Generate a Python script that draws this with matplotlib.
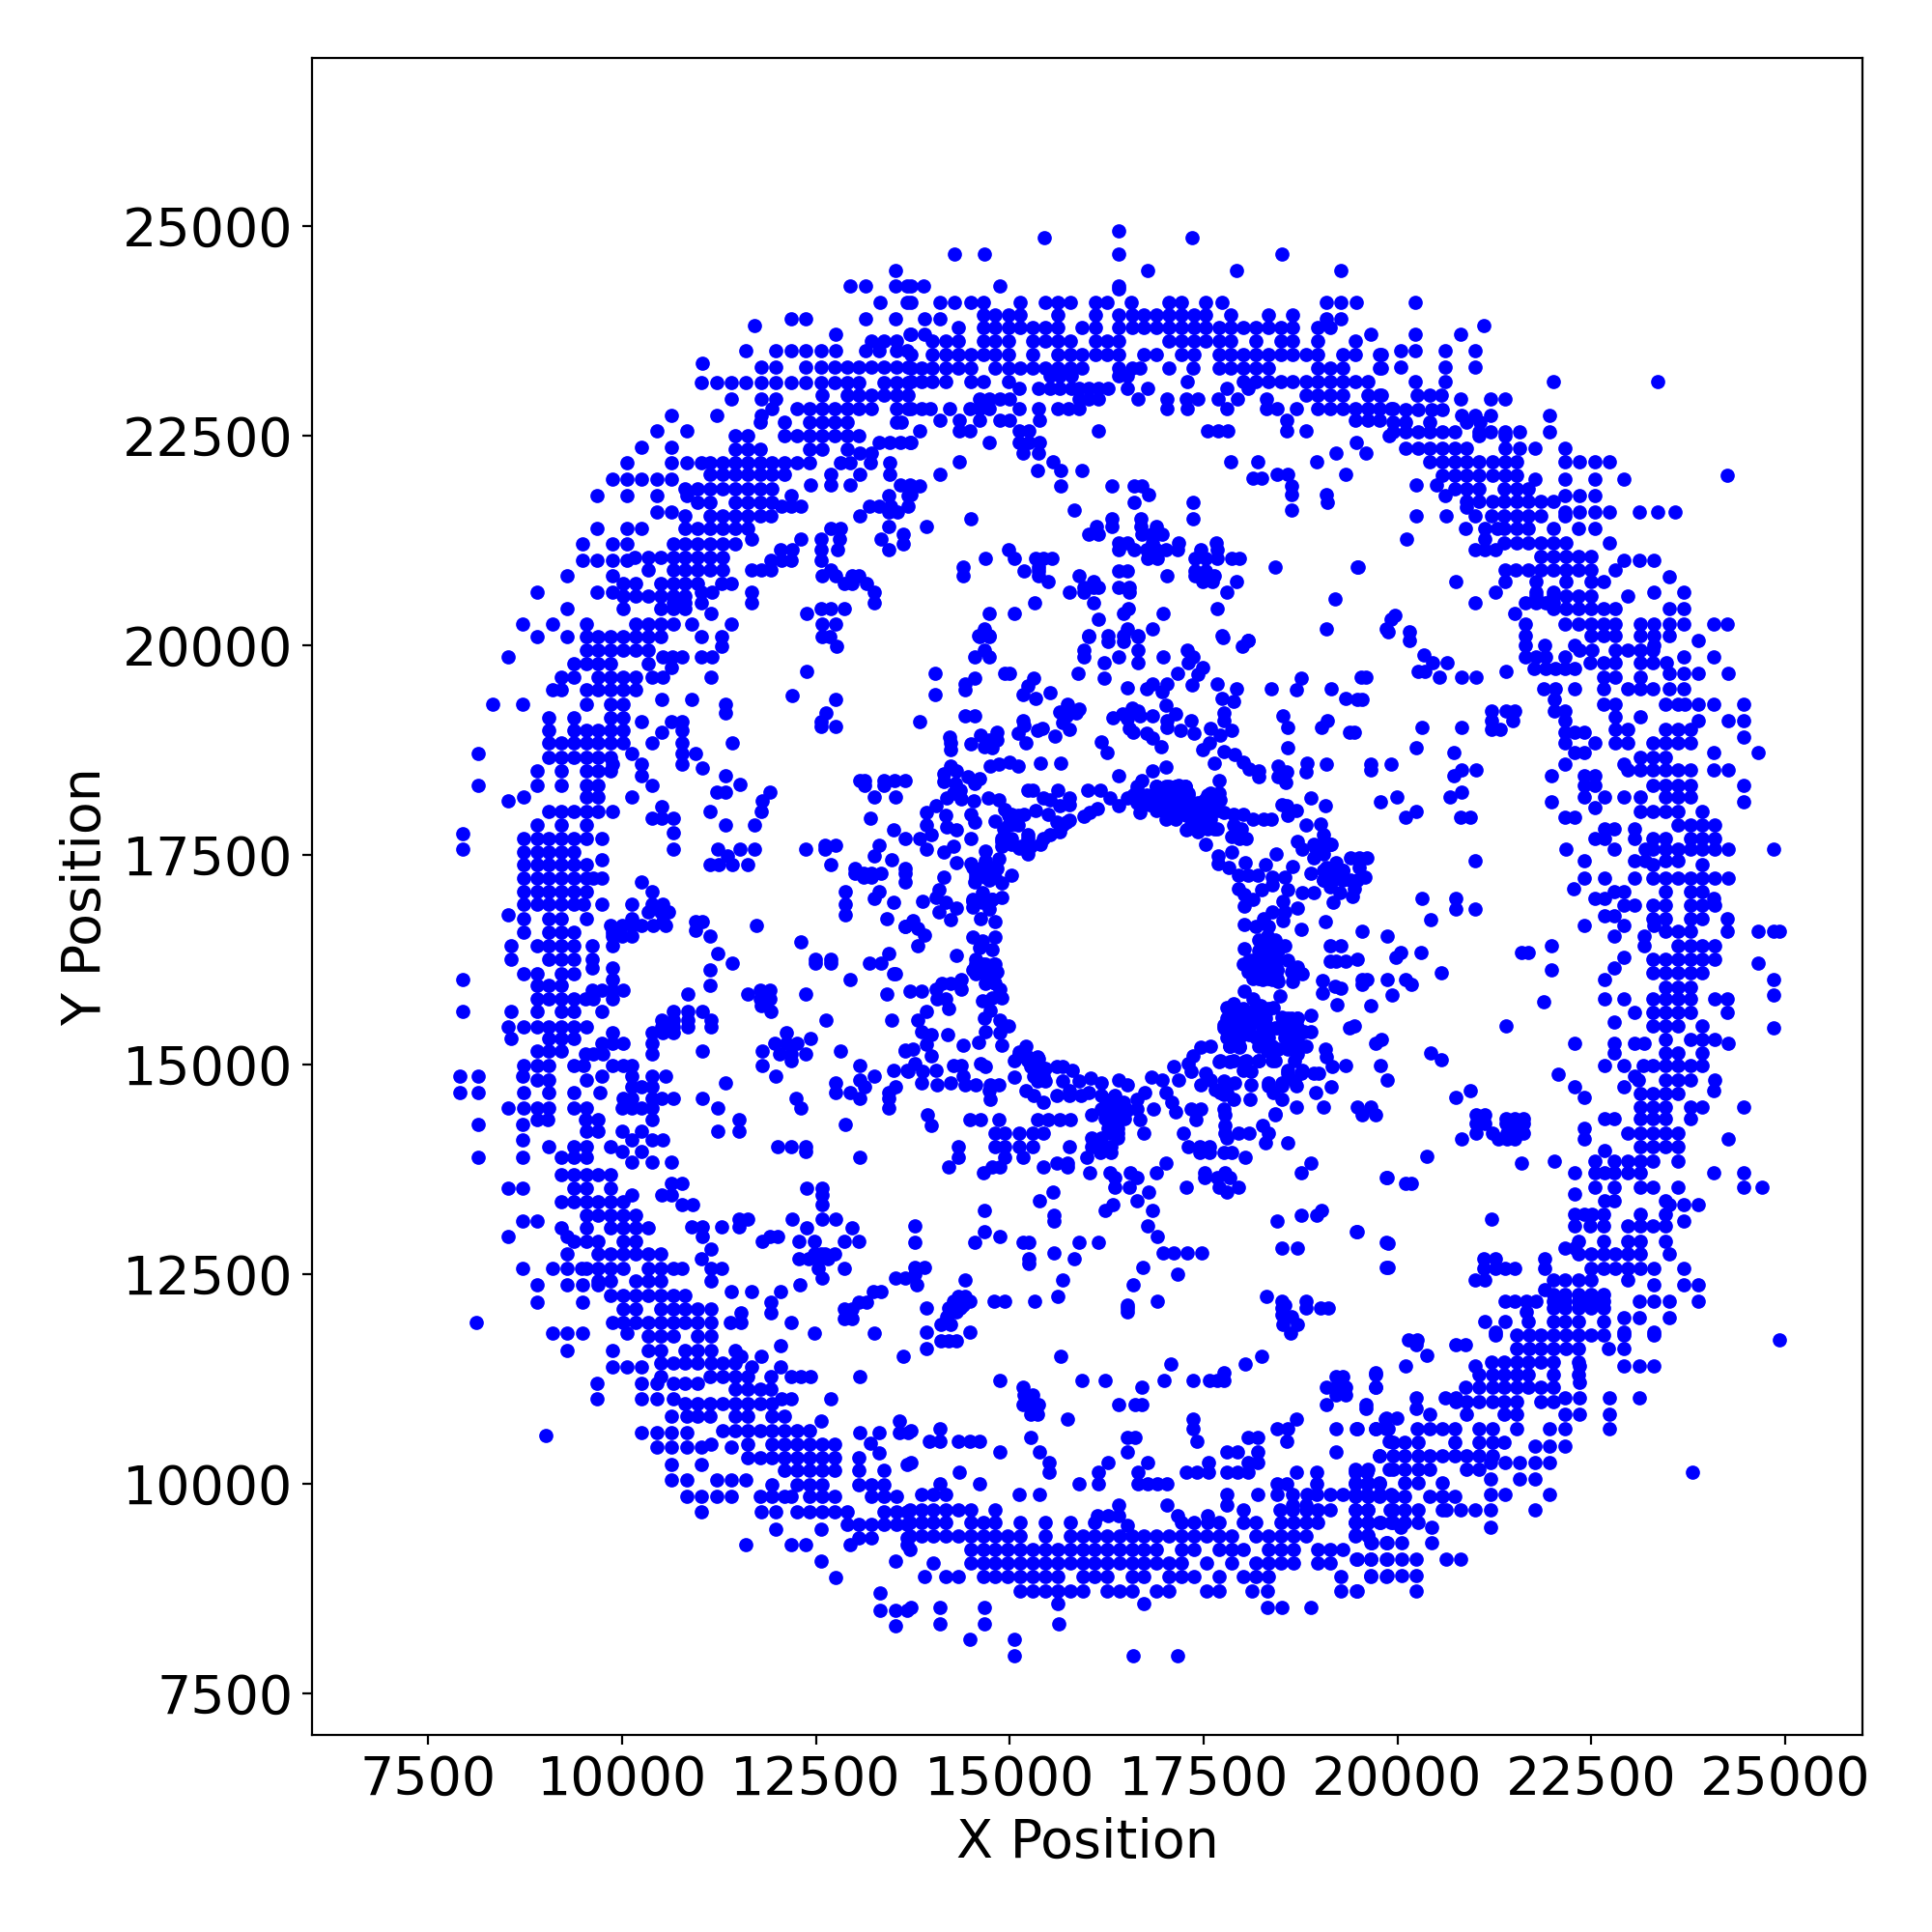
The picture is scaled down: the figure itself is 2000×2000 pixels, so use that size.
"""
plot.py - scatter of X/Y positions, values read off the reference picture.
Each region is a list of (y, [x, x, ...]) rows, the ring sits on a coarse grid.
"""
import matplotlib
matplotlib.use("Agg")
import matplotlib.pyplot as plt

# ── upper left of ring ────────────────────────────────────────────────────────
upper_left = [
    (24466, [13527]), (24282, [12938, 13137, 13527, 13681]), (24082, [13324, 13681]),
    (23890, [12178, 12365, 13137, 13527]), (23809, [11705]), (23706, [12751, 13714]),
    (23621, [13216, 13373, 13539]),
    (23510, [11593, 11979, 12178, 12365, 12564, 12751, 13137, 13320, 13539, 13681]),
    (23360, [11033]),
    (23310, [11792, 11979, 12365, 12564, 12739, 12905, 13054, 13216, 13373, 13539, 13693]),
    (23130, [11020, 11220, 11406, 11593, 11792, 11979, 12178, 12365, 12564, 12739, 12905, 13054, 13373, 13539, 13693]),
    (22976, [12577, 12905, 13054, 13216, 13373, 13539, 13693]), (22934, [11406, 11792, 11979]),
    (22815, [11929, 12253, 12415, 12577, 12739, 12905, 13054, 13216, 13539, 13693]),
    (22738, [10634, 11220, 11792]), (22657, [11784, 12091, 12415, 12577, 12739, 12905, 13539, 13602]),
    (22554, [10448, 10834]), (22496, [11456, 11618, 12091, 12253, 12415, 12577, 12739, 12905, 13054]),
    (22412, [13320, 13452, 13589, 13714]), (22354, [10248, 10634]),
    (22335, [11456, 11618, 11784, 12415, 12577, 12905]), (22285, [13070, 13216]),
    (22177, [10062, 10634, 10834, 11020, 11132, 11294, 11456, 11618, 11784, 11929, 12091, 12253, 12415, 12822, 12946, 13203, 13452]),
    (22035, [11132, 11294, 11456, 11618, 11784, 11929, 12091, 12689, 13070, 13452]),
    (21978, [9875, 10062, 10248, 10448, 10634]), (21908, [12427, 12689, 12938, 13589, 13714]),
    (21862, [10809, 10975, 11132, 11294, 11456, 11618, 11784, 11929]),
    (21782, [9676, 10062, 10448, 10834, 12178, 13444, 13693]),
    (21697, [10975, 11132, 11456, 11618, 11784, 11929]),
    (21659, [12054, 12178, 12303, 13195, 13320, 13465, 13693]), (21586, [10448, 10634, 13444, 13548]),
    (21536, [10809, 11132, 11294, 11456, 11618, 11784, 11921, 13070]),
    (21390, [9676, 10062, 10248, 10809, 10975, 11132, 11294, 11456, 11618, 12689, 12822]),
    (21413, [13436]), (21325, [13631]), (21260, [11672, 12303, 12564, 12801, 13340]),
    (21210, [9489, 9875, 10062, 10655, 10809, 10975, 11132, 11294, 11456, 13631]),
    (21140, [12041, 12191, 12564, 12780, 13436]),
    (21048, [10166, 10331, 10498, 10655, 10809, 10975, 11132, 11294]),
    (21010, [9489, 9676, 9875, 10062, 11917, 12178, 12054, 12564]),
    (20891, [10331, 10655, 10809, 10975, 11132, 11294, 11668, 11792, 11917, 12689]),
    (20826, [9294, 9875, 12577, 12759, 12967, 13058]),
    (20730, [10008, 10174, 10498, 10655, 10809, 10975, 11286, 11411, 12863, 12967, 13154]),
    (20626, [8904, 9676, 9875, 11016, 11153, 11668, 13257]),
    (20587, [10008, 10174, 10331, 10498, 10655, 10809]), (20507, [10655, 10809, 11016, 11668, 13249]),
    (20430, [9294, 10008, 10498, 10664, 10809, 12572, 12689, 12863]), (20376, [11141, 12377]),
    (20250, [8721, 9107, 9543, 10174, 10331, 10498, 10655, 10892, 11411, 12581, 12759]),
    (20096, [8904, 9294, 9543, 9688, 9854, 10008, 10174, 10331, 10498, 11016, 11286, 12581, 12676]),
]

# ── left of ring ──────────────────────────────────────────────────────────────
left_side = [
    (19980, [11278, 12767]), (19941, [9543, 9688, 9854, 10008, 10174, 10331]),
    (19857, [8530, 10518, 10643, 10776, 11016, 11153]), (19776, [9377, 9543, 9688, 9854, 10331]),
    (19730, [10634]), (19684, [12377]),
    (19615, [9219, 9377, 9688, 9854, 10008, 10174, 10385, 10518, 11141]),
    (19469, [9107, 9219, 9543, 9688, 9854, 10008, 10174]), (19396, [12191]),
    (19346, [10510, 10896, 12751]), (19288, [8331, 8721, 9543, 9854, 10008, 11328]),
    (19192, [11328, 12626]), (19135, [9053, 9377, 9854, 10008]), (19085, [10248, 10634, 10776, 12564]),
    (19027, [12564, 12751]), (18981, [9053, 9377, 9543, 9688, 9854, 10008, 10776]), (18962, [10510]),
    (18828, [9053, 9219, 9377, 9543, 9688, 9854, 10008, 10385, 10776, 11419]),
    (18705, [8144, 10124, 10776, 10946]), (18662, [9053, 9219, 9377, 9543, 9688, 9854]),
    (18578, [9875, 10248, 10776]), (18532, [11037]), (18494, [8900, 9219, 9543, 9688, 9854]),
    (18444, [10248, 11328]), (18386, [13070, 13133, 13382, 13519, 13651]),
    (18328, [8144, 8900, 9219, 9543, 9688, 10385, 13133, 13382]), (18340, [11523]),
    (18240, [11224, 11328, 11909]), (18182, [8734, 9543, 9688, 10124, 13257, 13527]),
    (18136, [8530, 11805]), (18067, [10510]),
    (18014, [9053, 9219, 9377, 9543, 9688, 9875, 11132, 11792]), (17933, [10385, 10510, 10655, 13199]),
    (17848, [8900, 9219, 9543, 11328, 11705]), (17791, [13498]), (17752, [7945]), (17760, [10655]),
    (17687, [8734, 8900, 9053, 9219, 9377, 9543, 9738, 13651]), (17610, [12614, 12759, 13320]),
    (17560, [7945, 10655, 11236, 11523, 11705, 12365, 12614]), (17534, [8734, 8900, 9053, 9219, 9377]),
    (17484, [11361, 13257]), (17438, [13473, 9738]),
    (17380, [8734, 8900, 9053, 9219, 9377, 9543, 11128, 11245, 11423, 11618, 12689]),
    (17330, [13008, 13651]), (17280, [13008, 13112, 13216, 13340, 13651]), (17226, [13112, 13216]),
    (17215, [8734, 8900, 9053, 9219, 9377, 9543, 9626, 9738]), (17169, [10248, 13651]),
    (17053, [8734, 8900, 9053, 9219, 9377, 9543, 13320, 12875, 10385]), (16977, [13257]), (16935, [13498]),
    (16908, [8734, 8900, 9053, 9219, 9377, 9501, 9738, 10124, 12875, 10385, 10518]),
    (16812, [10331, 10498, 10600]), (16781, [8530, 12875]),
    (16735, [8734, 9053, 9219, 9543, 13411, 10124]), (16704, [10518, 10946, 11037]),
    (16658, [9854, 10000, 10124, 10248, 10394, 10560, 11730]), (16639, [13651]), (16600, [10946]),
    (16574, [8734, 9053, 9219, 9377, 9875]), (16524, [9875, 10000, 10124, 11132]), (16454, [12303]),
    (16408, [8568, 8900, 9053, 9219, 9377, 9614, 9875]), (16320, [11236, 13444]),
    (16255, [8568, 9053, 9219, 9377, 9614, 12490, 12689]), (16205, [13195, 13340, 11423, 12490, 12689]),
    (16150, [9614, 9875]), (16120, [11132]), (16082, [8734, 8900, 9219, 9377, 13506, 13527]),
    (16014, [7945, 12938, 9875]), (15936, [8900, 9053, 9219, 11132]),
    (15883, [9614, 9738, 9875, 10008, 11784, 11909]), (15840, [10850, 11618, 12365, 13411]),
    (15775, [8900, 9053, 9219, 9377, 9522, 9626, 9875, 11784, 11909]), (15698, [11792]),
    (15633, [7945, 8568, 8900, 9219, 9377, 9738, 10664, 10850, 11037, 11917]),
    (15525, [10510, 10664, 10850, 11141, 12626, 13473]),
    (15449, [8530, 8734, 8900, 9053, 9219, 9377, 9543, 10510, 10664, 10850, 11141]),
    (15372, [9875, 10385, 10518, 10664, 12116]), (15303, [8568, 9053, 9219, 9377, 12427]),
    (15249, [9742, 9875, 10008, 10385, 11971, 12116, 12261]),
    (15160, [8900, 9053, 9219, 11029, 11805, 12813, 13651]),
    (15122, [9522, 9626, 9750, 10385, 12033, 12178, 12365]), (15045, [12178]),
    (14980, [8734, 8900, 9053, 9377, 9501, 9875, 10008, 10124, 11805, 13070]), (14930, [13498, 13672]),
    (14853, [7912, 8144, 8721, 9738, 10124, 10385, 10560, 11983, 13257]),
    (14815, [8900, 9053, 9543, 13070]), (14776, [11328, 12751]),
    (14726, [10124, 10248, 10385, 13133, 13527]),
    (14661, [7912, 8144, 8734, 9053, 9377, 9709, 12751, 12938, 13444]),
    (14596, [10008, 10124, 10385, 10510, 10664, 11029, 12241, 13070, 13444]),
    (14481, [8530, 8734, 8900, 9053, 9377, 9543, 10000, 10124, 10248, 10385, 11236, 12303, 13444]),
]

# ── lower left of ring ────────────────────────────────────────────────────────
lower_left = [
    (14337, [8900, 9045, 9522, 9688, 10385, 11514]), (14284, [8144, 8721, 12875]),
    (14204, [9543, 9688, 10000, 10248, 11232, 11514]), (14093, [8721, 10124, 10385, 10518]),
    (14014, [9053, 9377, 9543, 9854, 12004, 12178, 12365]), (13960, [10000, 10248, 12365]),
    (13894, [8144, 8721, 9211, 9377, 9543, 13070]), (13828, [10124, 10385, 10634]),
    (13686, [9211, 9377, 9543, 9688, 9854]), (13575, [10630, 10776]),
    (13526, [8530, 8721, 9377, 9543, 9854, 12377, 12581]), (13442, [10124, 10510, 10634, 12581]),
    (13362, [9211, 9377, 9543, 9688, 9854, 10008]), (13327, [10767, 10904, 12581]),
    (13199, [9543, 9688, 9854, 10008, 10174]), (13150, [11514, 11618, 12191, 12581, 12759]),
    (13128, [8721, 8904]), (13061, [10892, 11029, 11286, 11514]),
    (13043, [9211, 9543, 9854, 10008, 10174, 10331, 12377, 12967]),
    (12942, [8530, 9294, 11029, 11909, 12012]),
    (12884, [9377, 9543, 9688, 10008, 10174, 11805, 12282, 12477, 12863, 13050]), (12800, [11141]),
    (12733, [9294, 9688, 9854, 10008, 10174, 10331, 10498, 12481, 12614, 12739, 12572]),
    (12676, [11020, 12282, 12407, 12531, 12656]),
    (12565, [8721, 9103, 9294, 9481, 9543, 9688, 9854, 10008, 10331, 10498, 10655, 10776, 11141, 11286, 12531, 12863]),
    (12454, [12581, 13527, 13651]), (12410, [9688, 9854, 10174, 10331, 10498, 11141]),
    (12366, [8904, 9294, 9489, 9688, 12290]), (12290, [11411, 11668, 12045, 13236, 13340]),
    (12242, [9854, 10008, 10174, 10331, 10498, 10655, 10809]), (12166, [8904, 9489, 11917, 13050, 13154]),
    (12078, [10008, 10174, 10498, 10655, 10809, 10975, 11141, 12863, 12967]), (12033, [11535, 11917]),
    (11967, [12863, 12967]),
    (11923, [8120, 9875, 10008, 10174, 10331, 10498, 10655, 10809, 10975, 11141, 11390, 11535, 12178]),
    (11790, [9103, 9294, 9489, 10062, 12477, 13249]), (11759, [10331, 10498, 10655, 10975, 11141]),
    (11644, [12041]), (11590, [9294, 9875, 10331, 10498, 10809, 10975, 11141, 11452]),
    (11515, [11535, 11792, 13631]), (11435, [10498, 10655, 10809, 10975, 11141, 11294, 11452]),
    (11391, [9875, 10062, 10248, 11668, 12041]),
    (11272, [10498, 11132, 11294, 11452, 11618, 11917, 12178, 12303, 12436, 13070]),
    (11192, [9676, 10248, 10448, 10655, 10809, 10975]), (11125, [11452, 11618, 11784, 11917]),
    (11006, [9676, 10248, 10448, 10655, 12689, 12054, 12178]),
    (10957, [10809, 10975, 11132, 11294, 11452, 11618, 11784, 11929]),
    (10802, [10634, 10830, 10975, 11132, 11452, 11618, 11929, 12095]), (10749, [12564, 13581]),
    (10634, [11294, 11452, 11618, 11784, 11929, 12095, 12253, 12415]),
    (10607, [10248, 10448, 10634, 10834, 13070, 13320, 13581, 13693]), (10567, [9016]), (10483, [13199]),
    (10470, [11141, 11618, 11929, 12095, 12253, 12415, 12581, 12739]),
    (10430, [10448, 10634, 10834, 11016, 11411]), (10359, [13320]),
    (10306, [11618, 11784, 11929, 12095, 12253, 12415, 12581, 12739, 13050]),
    (10230, [10634, 11016, 13681]), (10151, [12095, 12253, 12415, 12581, 12739, 13050, 13373]),
    (10040, [10634, 10834, 11224, 11411, 11597]), (9987, [11929, 12253, 12415, 12581, 13050, 13216, 13373]),
    (9841, [10834, 11020, 11224, 11411, 11784, 11929, 12095, 12178, 12415, 12581, 12739, 13216, 13373, 13539]),
    (9663, [11020, 11792, 11979, 12253, 12415, 12581, 12739, 12905, 13373, 13539, 13681]),
    (9508, [12905, 13050, 13216, 13373, 13539, 13681]), (9451, [11979, 12564]), (9353, [13050, 13216, 13681]),
    (9274, [11597, 12178, 12365, 12938, 13681]), (9074, [12564, 13527]), (8875, [12751]), (8689, [13324]),
    (8490, [13324, 13527, 13681]), (8299, [13527]),
]

# ── bottom of ring ────────────────────────────────────────────────────────────
bottom = [
    (11609, [13921]), (11513, [15652, 18246]), (11425, [17084, 18042]), (11321, [17760, 19723]),
    (11275, [19213, 19295]), (11233, [14876, 15934, 16225, 16992, 17366, 17573, 17677, 17760]),
    (11148, [15166, 16702, 19088, 19213, 19337, 19723]), (11052, [15187, 15291, 19213, 19337]),
    (10937, [15166, 15291, 15374, 16411, 16619, 16702, 19088, 19598]), (10830, [15270, 15353]),
    (10764, [15739, 17366, 18702, 19847]), (10649, [14100, 17366, 18445, 18590, 19213, 19474, 19723, 19877]),
    (10630, [13726]), (10553, [15270, 16515, 16619, 18071, 18204]),
    (10503, [13963, 14100, 14336, 14481, 14614, 17420, 18578, 19897]),
    (10380, [14867, 15382, 16523, 17801, 17934, 18204, 19213]), (10330, [19773]),
    (10254, [13726, 15507, 16274, 16785, 17561, 18071, 18204]), (10169, [19897]),
    (10131, [14345, 15507, 16141, 16660, 17283, 17420, 17561, 17801, 17934, 18071, 18702, 18964, 19453, 19607]),
    (9996, [14100, 14614, 15892, 16141, 16660, 16785, 16909, 17034, 18445, 18578, 18964, 19453, 19607, 19773]),
    (9870, [13859, 14017, 14174, 15116, 15382, 17801, 18196, 18445, 18652, 18839, 18964, 19130, 19295, 19453, 19607, 19773, 19918]),
    (9739, [16399, 17034, 17801, 18652, 18818]),
    (9689, [13714, 13859, 14017, 14174, 14336, 14494, 14814, 18017, 18486, 18652, 18818, 18976, 19138, 19453, 19619, 19906]),
    (9612, [16133, 16274, 16399, 17171, 17553]),
    (9536, [13714, 13859, 14017, 14174, 14494, 14656, 14814, 15133, 15453, 15776, 16096, 17221, 17378, 17553, 17698, 18017, 18179, 18499, 18656, 18818, 18976, 19457, 19619, 19777, 19918]),
    (9497, [16523]),
    (9374, [13714, 13859, 14017, 14174, 14336, 14494, 14656, 14814, 14975, 15133, 15453, 15776, 15938, 16096, 16254, 16415, 16577, 16735, 16897, 17059, 17221, 17378, 17536, 17698, 17860, 18179, 18337, 18499, 18656, 18818, 19457, 19619]),
    (9294, [19669, 19856]),
    (9213, [13714, 14494, 14656, 14814, 14975, 15133, 15295, 15453, 15614, 15776, 15938, 16096, 16254, 16415, 16577, 16735, 16897, 17221, 17378, 17698, 17860, 18017, 18337, 18499, 18656, 18976, 19138, 19295]),
    (9094, [19474, 19661, 19856]),
    (9052, [14017, 14494, 14656, 14814, 14975, 15133, 15295, 15453, 15614, 15776, 15938, 16096, 16254, 16415, 16577, 16735, 16897, 17059, 17221, 17536, 17860, 18179, 18337, 18499, 18656, 18976, 19138]),
    (8890, [13901, 14174, 14336, 14656, 14814, 14975, 15133, 15295, 15453, 15614, 15938, 16096, 16254, 16577, 16735, 17059, 17221, 17378, 17698, 18017, 18179, 18337, 19275, 19661, 19856]),
    (8722, [15133, 15295, 15453, 15614, 15776, 15938, 16254, 16415, 16577, 16897, 17059, 17536, 17698, 18129, 18320, 19275, 19474]),
    (8568, [15614, 16735]), (8526, [13726, 14100, 14668, 18320, 18515, 18889]), (8326, [14100, 14668, 15627]),
    (8142, [14481, 15054]), (7942, [15054, 16586, 17171]),
]

# ── lower centre, between ring and hole ───────────────────────────────────────
lower_centre = [
    (14393, [16059, 18424, 13942, 17781]), (14336, [14481, 14627, 14855, 15353, 15498, 15644, 15780, 16681, 17407]),
    (14266, [13983, 17781, 18258]), (14182, [14814, 14938, 15125, 15291, 15436, 16287, 16391, 16735, 17241, 17781, 17947, 18092, 18341]),
    (14124, [16059, 16183, 16391, 17801]), (14067, [18300, 18590]),
    (14017, [14336, 14814, 14938, 15125, 15291, 15768, 16059, 16183, 16308, 17303, 17449, 17573]),
    (13952, [16162, 16308, 17449, 17573, 17760, 17864]), (13894, [14336, 14938, 15166, 15996, 18042]),
    (13825, [15602, 15747, 17013, 18889]), (13771, [14212, 15428, 14772, 14876, 15747]),
    (13702, [14656, 16025, 16287, 16557, 16897, 17511, 17781, 18764]),
    (13644, [16349, 16640, 17511, 17677, 17843, 19856]), (13529, [16349, 16548, 17283, 17698, 17947]),
    (13472, [15552, 16797, 17801]), (13372, [15386, 16640]), (13326, [16328]),
    (13257, [14668, 16233, 16835, 19026]), (13203, [15569, 18764, 18955]), (13134, [15569, 18445]),
    (13072, [13776, 16785]), (13003, [14668, 19470]), (12945, [14867, 16909]),
    (12876, [13776, 14544, 15166, 15249, 15892, 16141, 19856]), (12807, [18515, 18706]),
    (12750, [15569, 16972, 17117, 17295, 17482]), (12677, [15241, 15830]), (12619, [15241]),
    (12577, [13776, 13900, 16722, 19856]), (12492, [13776, 17171]), (12427, [14419, 15685]),
    (12370, [13797, 16590]), (12231, [14336, 14419, 15623, 18312]),
    (12174, [14274, 14481, 14793, 14930, 15320, 16909, 18515, 18818]),
    (12128, [14399, 16515, 18549]), (12089, [13921, 14212, 14357, 16523, 18507, 18818, 19005, 19109]),
    (12051, [14316, 16515]), (12012, [18507]), (11993, [14191, 18631]), (11897, [14108, 14233, 18528, 18714]),
    (11801, [14481, 13921]), (11794, [18623]), (11705, [14108, 14212, 14316]),
]

# ── top of ring ───────────────────────────────────────────────────────────────
top = [
    (24934, [16411]), (24858, [15440, 17357]), (24666, [14282, 14668, 16399, 18515]),
    (24466, [16785, 17926, 19275]), (24282, [13726, 13892, 14867, 16399]), (24251, [16411]),
    (24090, [13726, 14096, 14282, 14494, 14656, 15129, 15453, 15614, 15776, 16100, 16254, 16573, 17059, 17221, 17532, 17739, 19088, 19275, 19474]),
    (23936, [14656, 14814, 14980, 15129, 15614, 16100, 16411, 16577, 16735, 16897, 17059, 17221, 17378, 17532, 17855, 18333, 18652]),
    (23890, [13901, 14096, 19088, 19275]),
    (23782, [14336, 14656, 14814, 14980, 15129, 15291, 15453, 15614, 15934, 16100, 16411, 16577, 16735, 16897, 17059, 17221, 17378, 17532, 17698, 17855, 18017, 18175, 18333, 18495, 18652, 18972, 19138]),
    (23706, [13726, 13901, 19661]),
    (23621, [14004, 14174, 14336, 14656, 14814, 14980, 15291, 15453, 15614, 15776, 16100, 16254, 16411, 17059, 17221, 17378, 17532, 17698, 17855, 18175, 18495, 18652, 18972, 19453]),
    (23460, [13726, 14004, 14174, 14336, 14494, 14656, 14814, 14980, 15291, 15614, 15776, 15934, 16100, 16254, 16411, 16735, 16897, 17221, 17378, 17698, 17855, 18017, 18175, 18333, 18495, 18652, 18818, 18972, 19295, 19453, 19773]),
    (23299, [13726, 13859, 14004, 14174, 14336, 14494, 14814, 14980, 15129, 15291, 15453, 15614, 15776, 15934, 16411, 16577, 16673, 17059, 17366, 17698, 17855, 18017, 18175, 18333, 18972, 19138, 19295, 19773]),
    (23206, [15519, 15644, 15789, 16411, 16515]),
    (23137, [13726, 13859, 14004, 14174, 14494, 14656, 14980, 17295, 18017, 18175, 18333, 18495, 18652, 18818, 18972, 19138, 19295, 19453, 19619]),
    (23060, [15116, 15374, 15519, 15644, 15789, 15892, 16017, 16142, 16274, 16523, 16785, 17801, 18071]),
    (22976, [18818, 18972, 19138, 19295, 19619, 19773]),
    (22930, [14606, 14730, 14876, 15000, 15892, 16017, 16142, 16660, 17034, 17283, 17428, 17685, 17934, 18312]),
    (22815, [13726, 13859, 13975, 14220, 14481, 14606, 14730, 15116, 15374, 15623, 15756, 15892, 17034, 17295, 17801, 18312, 18445, 18702, 18972, 19138, 19295, 19453, 19619, 19773, 19918]),
    (22680, [14096, 14345, 14606, 14867, 14992, 15382, 18578, 19453, 19619, 19773]),
    (22554, [13838, 14345, 14481, 15116, 15249, 16142, 17553, 17685, 17814, 18578, 18827]), (22496, [19897]),
    (22419, [13726, 14730, 15116, 15249, 15382, 19474]), (22285, [15166, 15366, 19213, 19598]),
    (22189, [14345, 15552, 17855, 18196, 18964]), (22081, [15353, 15652, 15934]),
    (22035, [14096, 18445, 18582, 19337]), (21989, [18142, 18246]),
    (21901, [13726, 13838, 15652, 16320, 16610, 16702, 18631]), (21797, [13726, 16797, 18631, 19088]),
    (21701, [16610, 17366, 19100]), (21613, [15838, 18631]), (21505, [14494, 16320, 16694, 17366]),
    (21413, [13921, 16121, 16320, 16694, 16889]), (21325, [16017, 16142, 16702, 16826, 16963]),
    (21217, [16399, 16515, 16839, 17179, 17669]),
    (21133, [14980, 16399, 16610, 16764, 16889, 17013, 17171, 17469, 17677]),
    (21037, [14681, 15063, 15332, 15436, 15540, 16785, 16909, 17387, 17532, 17677, 17864, 17968]),
    (20929, [14399, 15374, 18424, 19491]), (20883, [15179, 15374, 16411, 16515, 17387, 17532]),
    (20826, [14399, 15374, 15892, 17034, 17387, 17635]), (20760, [15498, 16079, 17490, 17615, 17926]),
    (20691, [15955, 16079, 16142, 16411, 16536]), (20626, [15768, 15955, 16536, 17801]), (20549, [19200]),
    (20507, [15320, 16079]), (20434, [16527, 17677]), (20376, [14730, 15054, 16465, 16972]),
    (20307, [16142, 19918]), (20192, [14668, 16515, 16847, 19088, 19856]),
    (20108, [14598, 14739, 16017, 16274, 16465, 16660, 17739]), (20058, [18071]),
]

# top right edge, above the upper right block
top_right_edge = [
    (24085, [20233]), (23808, [21113]), (23705, [20233, 20818]), (23509, [20042, 20233, 20619, 21005]),
    (23463, [19793]), (23317, [20042, 20619, 21005]), (23302, [19793]), (23140, [20233, 20619, 22013, 23358]),
    (22983, [19793, 20258, 20415, 20573]), (22937, [20818, 21204, 21391]), (22822, [19938]),
]

# ── upper right of ring ───────────────────────────────────────────────────────
upper_right = [
    (22803, [20105, 20271, 20437, 20582]), (22734, [20823, 21005, 21205, 21964]),
    (22657, [19939, 20105, 20416, 20893, 21068]),
    (22542, [19939, 20105, 20271, 20416, 20582, 20740, 21059, 21205, 21391, 21578, 21964]),
    (22496, [21059, 21391]), (22342, [20105, 20271, 20416, 20582, 20740, 20893, 21391, 21578, 21777, 22159]),
    (22181, [20416, 20582, 20740, 20893, 21059, 21225, 21391, 21545, 22159, 22346, 22553, 22740]),
    (22028, [20582, 20740, 20893, 21059, 21225, 21391, 21545, 24255]), (21978, [21777, 22159, 22553, 22927]),
    (21908, [20238, 20499]), (21862, [20740, 20893, 21059, 21379, 21545, 21694]),
    (21778, [20615, 22159, 22346, 22553]), (21709, [20893, 21059, 21225, 21379, 21545, 21694, 21848, 22014]),
    (21643, [20893]), (21586, [22159, 22346, 22553, 22740, 23122, 23363, 23582]),
    (21536, [20238, 20624, 21005, 21213, 21379, 21545, 21694, 21848, 22159]),
    (21390, [20881, 21130, 21288, 21379, 21545, 21694, 22014, 22337, 22553]), (21267, [20113, 21130]),
    (21217, [21379, 21545, 21694, 21848, 22014, 22180, 22740]), (21133, [21005, 21130, 21267]),
    (21056, [21848, 22014, 22180, 22337, 22499]), (21006, [22927, 23122, 23309]), (20929, [19482]),
    (20891, [21391, 21524, 21694, 21848, 22014, 22180, 22337, 22499, 22811]), (20814, [23508]),
    (20756, [20756, 21391, 21786, 22180, 22499, 22665]), (20634, [21267, 21786, 22014, 23309, 23694]),
    (20584, [21786, 22014, 22180, 22337, 22499, 22977]), (20507, [21005, 21649, 21786, 21910, 22014]),
    (20434, [22014, 22180, 22337, 22499, 22665, 22815, 23508, 23694]), (20376, [21516]), (20353, [19972]),
    (20250, [21653, 22159, 22337, 22499, 22665, 22815, 23134, 23313, 23508, 23694, 24080, 24255]),
    (20161, [19877, 20159]), (20108, [21653, 22499, 22665, 22815, 23134, 23313, 23508]),
    (20058, [20159, 23881]), (20000, [21653, 21902, 22284, 23313]),
    (19935, [22346, 22512, 22815, 22977, 23134, 23300]), (19885, [20345]),
    (19858, [21653, 21786, 21910, 22159, 23694, 24080]),
    (19789, [20458, 20644, 22491, 22657, 22815, 23134, 23300, 23466]),
    (19723, [21765, 21910, 22035, 22159, 22284]), (19685, [20271, 20354, 21404]),
    (19662, [23508, 23694, 23881, 24267]),
    (19616, [19536, 19594, 20540, 20831, 21018, 22665, 22815, 23134]),
    (19482, [21889, 22035, 22284, 22665, 22968, 23134, 23300, 23508, 23694]), (19355, [19482, 19545, 22026]),
    (19290, [22665, 22815, 23454, 23620, 23707, 23881, 24080, 24462]),
    (19213, [21213, 21404, 21516, 22026, 22159]), (19144, [22815, 23134]),
    (19098, [21213, 21495, 22159, 23881, 24267, 24462]), (19021, [20312, 20831]),
    (18994, [21213, 21329, 22815, 22968, 23454, 23620, 23778]), (18963, [19441, 22159, 22284, 22416]),
    (18898, [24462]), (18836, [22159, 22553, 22815, 22968, 23300, 23454, 23620, 23778]), (18779, [20238]),
    (18714, [20727, 22284, 22416, 24080, 24657]), (18664, [23134, 23300, 23454]),
    (18580, [22159, 19918, 19661, 22927]),
    (18510, [22968, 23134, 23300, 23454, 23620, 23778, 24080, 24267, 20831, 21018, 19661]),
    (18445, [22408, 22553, 21993, 20727]), (18330, [22408, 22553, 23300, 23454, 23620, 23778, 24462]),
    (18245, [20831]), (18188, [19989, 20677, 22408, 22678, 22927, 23134, 23454, 23620, 23778]),
    (18130, [19785, 21993, 24462]), (18061, [22553]), (18011, [20238, 23134, 23300, 23454, 23620, 23931]),
    (17945, [20105, 20810, 20935, 22159, 22284]), (17857, [23620, 23778, 23931, 24097]),
    (17811, [22678, 22802, 23060]), (17688, [22553, 22678, 23060, 23300, 23454, 23778, 23931, 24097]),
    (17562, [22180, 22802, 23197, 23300, 23454, 23620, 23778, 23931, 24097, 24267, 24857]),
    (17466, [19503, 19607]), (17427, [21005, 22408, 23060, 23197, 23454, 23620]), (17381, [23300, 23931]),
    (17350, [19503]), (17235, [19586]), (17197, [19482]),
    (17216, [22408, 22678, 23060, 23300, 23454, 23620, 23778, 23931, 24097, 24267]),
]

# ── right of ring ─────────────────────────────────────────────────────────────
right_side = [
    (17089, [22275, 19441]), (17062, [22802, 22927, 23454, 23778, 23931]),
    (16978, [20312, 20756, 22553, 22678, 24080]), (16897, [22927, 23060, 23300, 23454, 23778, 23931, 24097]),
    (16851, [20756, 21005]), (16774, [22678, 22802]), (16736, [23300, 23454, 23778, 23931, 24255]),
    (16724, [20428]), (16651, [22408, 22927, 23309]),
    (16582, [19545, 23454, 23620, 23778, 24255, 24657, 24857, 24931]), (16532, [19864, 22802, 23184]),
    (16409, [21993, 23184, 23620, 23778, 23931, 24097]), (16332, [20042, 20304, 21599, 21694]),
    (16275, [19980, 22927]), (16248, [23300, 23454, 23620, 23778, 23931, 24097, 19482]), (16206, [24657]),
    (16148, [22802]), (16121, [21993]), (16090, [20561, 23300, 23454, 23620, 23778, 23931]),
    (16006, [19545, 19607, 19864, 20105, 22678, 24857]), (15948, [19545, 20175]),
    (15922, [23454, 23620, 23778]), (15825, [19926, 24857]),
    (15776, [22678, 22927, 23300, 23454, 23620, 23778, 24097, 24255]), (15745, [21889]), (15699, [19661]),
    (15622, [23060, 23300, 23454, 23620, 23778, 24255]), (15499, [22802]),
    (15461, [19441, 21404, 23300, 23454, 23620, 23931]), (15438, [24857]),
    (15296, [23454, 23778, 23931, 24097, 19794]), (15250, [19719, 22284, 22802, 23060, 23184, 24267]),
    (15130, [20428, 22802, 23454, 23620, 23931]), (15054, [20561]),
    (14981, [19785, 22678, 22927, 23176, 23300, 23454, 23620, 23778, 23931]), (14881, [22076]), (14854, [23060]),
    (14816, [19864, 23454, 23620, 23778, 24097, 23114]), (14731, [22284, 22927]), (14689, [20935, 24080]),
    (14650, [23134, 23300, 23454, 23620]), (14604, [20756, 22408]),
    (14489, [19482, 19661, 23134, 23300, 23454, 23778, 23931, 24470]), (14401, [19545, 19719, 21018, 21130]),
    (14347, [22678, 22802, 23134, 23300, 23454, 23778, 21404, 21516, 21620]),
    (14297, [21018, 21130, 21404, 21516, 21620]), (14232, [22416]),
    (14182, [21018, 21225, 21412, 21537, 21620, 22968, 23134, 23300, 23454, 23620]),
    (14105, [20831, 21308, 21412, 21516, 22416, 24267]), (14017, [23134, 23300, 23454, 23620]),
    (13971, [22678]), (13906, [20375]), (13848, [22553, 22802, 22968, 23134, 23300, 23620, 22026]),
    (13825, [21607]), (13702, [22553, 22678, 22802, 22968, 23134, 22284, 24080, 24470]), (13644, [19864]),
    (13580, [20175, 20105]), (13537, [22802, 22553, 23134, 23300, 23620, 24470, 24703]), (13452, [22284]),
    (13368, [22678, 22802, 23454]), (13326, [23508, 23694, 23881]),
    (13210, [22284, 22408, 22512, 22665, 23134, 23454]), (13153, [21217]), (13126, [23694]),
    (13068, [22284, 22491, 22665, 22968, 23134, 23300, 23454]), (13003, [19482]),
    (12888, [22337, 22665, 22968, 23134, 23454]), (12869, [19877]), (12807, [22159, 22284]),
    (12742, [22337, 22499, 22665, 22815, 22968, 23134, 23508]), (12685, [21121, 21267, 21902]), (12577, [19877]),
    (12569, [21121, 21267, 21391, 21516, 21902, 22499, 22665, 22815, 22968, 23134, 23309, 23694]),
    (12423, [21005, 21130, 22014, 22159, 22337, 22499, 22968]), (12366, [23309, 23694, 23881]), (12308, [21902]),
    (12250, [22014, 22159, 22337, 22499, 22665]),
    (12174, [21391, 21516, 21661, 21786, 22014, 22159, 22337, 22499, 22665, 23122, 23309, 23508, 23881]),
    (12097, [22014, 22159, 22337, 22499, 22665]), (12051, [21661]), (11974, [22927, 23122, 23508]),
    (11928, [21130, 21391, 21694, 22014, 22159, 22337, 22665]), (11801, [21267, 22927, 23309]),
]

# ── lower right of ring ───────────────────────────────────────────────────────
lower_right = [
    (11774, [21537, 21703, 21848, 22014, 22180, 22337, 22499, 22665, 22927, 23309, 21267]),
    (11712, [24927, 20146, 20250]), (11659, [20756, 20881, 20238]),
    (11609, [21537, 21703, 21848, 22014, 22180, 22337, 22728, 22927]), (11532, [20375]),
    (11448, [21213, 21379, 21537, 21694, 21848, 22014, 22337]), (11405, [20105, 21005, 22927, 23122, 23309, 22346]),
    (11302, [19723, 21059, 21225, 21379, 21537, 21694, 22014, 22337]), (11206, [22346]),
    (11148, [19723, 20881, 21059, 21225, 21379, 21537, 21694, 21848, 22014]),
    (11021, [20238, 20615, 20756, 22159, 22346, 22732, 23122]),
    (10975, [20756, 20893, 21059, 21225, 21379, 21537, 21848, 22014]), (10898, [19598, 20238]),
    (10822, [20416, 20893, 21379, 21537, 22159, 22346, 22732]), (10776, [19856, 19989]),
    (10649, [19482, 19723, 19856, 20250, 20416, 20574, 20740, 21059, 21225, 21537, 21964, 22159, 22732]),
    (10495, [19939, 20096, 20262, 20740, 21059, 21225, 21379]), (10445, [21777, 21964, 22159]),
    (10330, [19773, 19939, 20096, 20262, 20416, 20574, 20740, 20893, 21059, 21225]),
    (10253, [21205, 21391, 21578, 21777, 21964]),
    (10169, [19453, 19615, 19939, 20096, 20262, 20416, 20893, 21059]), (10138, [23807]),
    (10054, [21205, 21578, 21777]), (10008, [19453, 19615, 19773, 20096, 20262, 20574]),
    (9869, [21205, 21391, 21964]), (9846, [19453, 19615, 19773, 19939, 20096, 20416, 20574, 20740]),
    (9689, [19453, 19615, 19939, 20096, 20262, 20574, 20624, 20819, 21005, 21205, 21777]),
    (9535, [19453, 19615, 19773, 19939, 20096, 20262]), (9478, [20437, 21205, 20043]), (9382, [19453, 19615]),
    (9293, [19661, 19864, 20051, 20437]), (9094, [19482, 19661, 19864, 20051, 20238, 20624, 20819]),
    (8902, [19661, 19864, 20051, 20238]), (8717, [19482, 20238]),
]

# tightly packed points hugging the hole, where single dots cannot be told apart
inner_dense = [
    (18310, [16640, 16889, 17013, 17138, 17262]),
    (18214, [16598, 16764, 16930, 17055, 17179, 17304, 17553, 17677]),
    (18118, [16640, 16806, 16930, 17055, 17179, 17304, 17428, 17594]),
    (18022, [16889, 17013, 17138, 17262, 17428, 17553, 17677]),
    (17926, [17013, 17138, 17345, 17470, 17594]), (17810, [17304, 17428, 17553, 17677]),
    (17964, [14980, 15104]), (17887, [15602, 15727]), (17849, [14980, 15104]),
    (17695, [14897, 15021, 15229, 15436]), (17618, [18922, 19047, 19130]), (17599, [14897, 15146, 15270]),
    (17350, [14523, 14648, 14772]), (17311, [19047, 19171, 19296]), (17234, [14565, 14689, 14814]),
    (17196, [19047, 19171, 19296]), (16966, [14523, 14648, 14772]),
    (16466, [18258, 18382]), (16351, [18217, 18341, 18466]), (16236, [18092, 18217, 18341, 18445]),
    (16198, [14565, 14689, 14814]), (16121, [18092, 18217, 18341, 18445]), (16082, [14565, 14689, 14814]),
    (16025, [18217, 18341, 18445]), (15967, [14689, 14814]),
    (15660, [17843, 18009, 18175, 18341]), (15545, [17802, 17968, 18134, 18300, 18590, 18715]),
    (15430, [17760, 17926, 18092, 18258, 18424, 18549, 18673]), (15314, [17802, 17968, 18175, 18341, 18549, 18715]),
    (15218, [17843, 17968, 18217, 18382, 18590, 18756]), (15084, [15104, 15229, 15353]),
    (15046, [17718, 17885, 18051, 18217, 18382, 18673]), (14969, [15270, 15395]),
    (14892, [18590, 18756, 18922]), (14854, [15312, 15436]), (14738, [18341, 18507]), (14662, [17718, 17802]),
    (14585, [16225, 16349]), (14470, [16183, 16308, 16432]), (14354, [16225, 16349, 16474]), (14239, [16266, 16391]),
]

# ── inner cloud around the hole, scattered so kept as (x, y) pairs ────────────
inner_north = [
    (14606, 20095), (14730, 20095), (14668, 19941), (14544, 19853), (14730, 19853), (16017, 20095), (16274, 20045),
    (16465, 20045), (16660, 20095), (15955, 19941), (15955, 19853), (16660, 19941), (16399, 19853), (16216, 19788),
    (16660, 19788), (16972, 19853), (15884, 19661), (16216, 19603), (14037, 19661), (14544, 19603), (14419, 19538),
    (14419, 19469), (14037, 19404), (14938, 19661), (15000, 19661), (15312, 19603), (15229, 19507), (15166, 19404),
    (15332, 19358), (15519, 19430), (17295, 19941), (17366, 19853), (17304, 19788), (17490, 19730), (17428, 19653),
    (17357, 19526), (17171, 19661), (17677, 19530), (17739, 19358), (17926, 19480), (17893, 19327), (17748, 20083),
    (18071, 20056), (18001, 19980), (18374, 19480), (18756, 19607), (18702, 19469), (19150, 19480), (19337, 19358),
    (16515, 19488), (16764, 19480), (16847, 19538), (17034, 19538), (16963, 19442), (15747, 19288), (15892, 19238),
    (15643, 19200), (15727, 19154), (15851, 19192), (15685, 19077), (15768, 18993), (15581, 18916), (15415, 19000),
    (15353, 18981), (15187, 19039), (15166, 19096), (15104, 18950), (15208, 18835), (13838, 19085), (14419, 19154),
    (14544, 19154), (14834, 18962), (14627, 18924), (14730, 18866), (14834, 18866), (14668, 18789), (14772, 18770),
    (14224, 18904), (14232, 18828), (14232, 18751), (14494, 18820), (14751, 18559), (14855, 18578), (15000, 18605),
    (15104, 18559), (15395, 18590), (15652, 18590), (16183, 18847), (16254, 18712), (16328, 19127), (16453, 19181),
    (16577, 19250), (16660, 19212), (16515, 19116), (16598, 18962), (16536, 19000), (16681, 19154), (16847, 19154),
    (17013, 19277), (17138, 19173), (17345, 19096), (17034, 19020), (17200, 18981), (17374, 18943), (16764, 18943),
    (16847, 18885), (16959, 18782), (17034, 19096), (17760, 19192), (17760, 19096), (17864, 18981), (17594, 19000),
    (17718, 18924), (17573, 18828), (17490, 18751), (17760, 18732), (17897, 18693), (17635, 18590), (18009, 18597),
    (18092, 18520), (18208, 18501), (18217, 18424), (18528, 19154), (18582, 19020), (18582, 18770), (19026, 19020),
    (19100, 19096), (19378, 18962), (18465, 18559), (18831, 18590), (18818, 18482), (19088, 18578), (18569, 18482),
    (18465, 18424), (18561, 18355), (14232, 18559), (14150, 18463), (14316, 18501), (14150, 18367), (14461, 18424),
    (14606, 18405), (14544, 18348), (14295, 18348), (14357, 18271), (14191, 18175), (14378, 18167), (14274, 18232),
    (14531, 18144), (14718, 18175), (14855, 18156), (14938, 18040), (15229, 18271), (15291, 18271), (15436, 18175),
    (15614, 18271), (15519, 18156), (15768, 18175), (15768, 18098), (15643, 18079), (16005, 18271), (16162, 18271),
    (16287, 18175), (16411, 18079), (16129, 18048), (16029, 18002), (15955, 17952), (16411, 18436), (16847, 18501),
    (17021, 18540), (16702, 18386),
]
inner_arc_top = [
    (16515, 18175), (16639, 18271), (16722, 18194), (16805, 18098), (16681, 18002), (16889, 18309), (16972, 18271),
    (17055, 18309), (17179, 18328), (17262, 18309), (16930, 18156), (17055, 18117), (17179, 18156), (17304, 18232),
    (17013, 18002), (17138, 18002), (17283, 17964), (17387, 18079), (17511, 18156), (17594, 18232), (17698, 18378),
    (17698, 18232), (17718, 18156), (17470, 17983), (17553, 17848), (17635, 17810), (17283, 17791), (17428, 17772),
    (17532, 17626), (17760, 18002), (17885, 17983), (18009, 17983), (18133, 17925), (18279, 17925), (18374, 17925),
    (17885, 17848), (17988, 17810), (17864, 17714), (18051, 17695), (17968, 17695), (18507, 18098), (18569, 18079),
    (18694, 18021), (18590, 17964), (18881, 18175), (19076, 18087), (18818, 17848), (19005, 17868), (18715, 17656),
    (18777, 17560), (18943, 17580), (19047, 17733), (19150, 17618), (19047, 17503), (18922, 17464), (19399, 17464),
    (19212, 17407), (19088, 17349), (19171, 17253), (19047, 17196), (19296, 17311), (19399, 17196), (19130, 17119),
    (19254, 17042), (19420, 17004), (17864, 17534), (18432, 17503), (17689, 17484), (17689, 17388), (17822, 17349),
    (18042, 17407), (18299, 17380), (18652, 17357), (17947, 17253), (18071, 17253), (18196, 17253), (18382, 17234),
    (18382, 17138), (18549, 17234), (18250, 17080), (17947, 17088), (18030, 17023), (18134, 16965), (18030, 16888),
    (18881, 17272), (18590, 17080), (18528, 16946), (18777, 17042), (18922, 17042), (18715, 16858), (19171, 16935),
]
inner_arc_left = [
    (14046, 18079), (13921, 18002), (14170, 17964), (13921, 17848), (13838, 17695), (13983, 17733), (14191, 17829),
    (14316, 17791), (14502, 17983), (14544, 17887), (14813, 17894), (14494, 17695), (13921, 17560), (14150, 17534),
    (14274, 17599), (15021, 17983), (15187, 17983), (15332, 18021), (15498, 17983), (14917, 17810), (15042, 17868),
    (15229, 17733), (14897, 17656), (15021, 17618), (15125, 17580), (15229, 17503), (15395, 17618), (15519, 17733),
    (15643, 17772), (15768, 17906), (15685, 17848), (14689, 17541), (14316, 17407), (14502, 17388), (14689, 17426),
    (14855, 17445), (14565, 17272), (14710, 17292), (14834, 17330), (14544, 17176), (14731, 17196), (14897, 17157),
    (15021, 17253), (14150, 17234), (14087, 17080), (14648, 17042), (14523, 16946), (14648, 16927), (14772, 16965),
    (14897, 16984), (14523, 16869), (14731, 16850), (13880, 16938), (14046, 16984), (14170, 16927), (14087, 16812),
    (14307, 16858), (14232, 16727), (13755, 16716), (13651, 16639), (13818, 16620), (13900, 16543), (13818, 16408),
    (14627, 16735), (14813, 16704), (14523, 16516), (14648, 16466), (14813, 16516), (14606, 16389), (14772, 16370),
    (14307, 16293), (14556, 16255), (14648, 16197), (14793, 16197), (14523, 16120), (14689, 16082), (14834, 16101),
    (14793, 15986), (14876, 15890), (14648, 15756), (14772, 15794), (14897, 15794), (14751, 15640), (14129, 15967),
    (14232, 15967), (14378, 16013), (14378, 15890), (14046, 15890), (14067, 15775), (14170, 15775), (14212, 15667),
    (13714, 15871), (13859, 15871), (13921, 15629), (13818, 15525), (14668, 15544), (14876, 15525), (14979, 15456),
    (14876, 15372), (14689, 15391), (14203, 15352), (13859, 15391), (13983, 15352), (14399, 15230), (14598, 15256),
    (14897, 15230), (13651, 15168), (13755, 15179), (13921, 15237), (13983, 15103), (13776, 15007), (13693, 14911),
    (13880, 14911), (14046, 14930), (13859, 14776), (14067, 14757), (14232, 14776), (14274, 14988), (14378, 14988),
    (14399, 14853), (14419, 14757), (14565, 14757), (14627, 15007), (14689, 14968), (14751, 14757), (14855, 14757),
    (14731, 14680), (14751, 14584),
]
inner_arc_bottom = [
    (15125, 15141), (15208, 15218), (15063, 15045), (15229, 15045), (15374, 15064), (15312, 14949), (15457, 14949),
    (15602, 14968), (15685, 14968), (15810, 14930), (15063, 14846), (15353, 14796), (15457, 14796), (15685, 14796),
    (15208, 14680), (15312, 14623), (15436, 14546), (15602, 14623), (15768, 14680), (15892, 14796), (16038, 14834),
    (15913, 14623), (15768, 14623), (16017, 14661), (16183, 14776), (16411, 14815), (16515, 14757), (16349, 14623),
    (16183, 14623), (16743, 14661), (16639, 14584), (16473, 14546), (16245, 14469), (16349, 14469), (16515, 14450),
    (16639, 14469), (17117, 14976), (16826, 14846), (16963, 14815), (17179, 14807), (17013, 14661), (17096, 14546),
    (16859, 14469), (17138, 14431), (17345, 14469), (17469, 14469), (17469, 14757),
]
inner_lower_right = [
    (18030, 15871), (18134, 15775), (18237, 15698), (17885, 15717), (17802, 15679), (17968, 15621), (18113, 15621),
    (18300, 15602), (18403, 15679), (18486, 15813), (17760, 15468), (17885, 15506), (18009, 15506), (18134, 15506),
    (18258, 15506), (18320, 15449), (17843, 15352), (17968, 15352), (18092, 15352), (18237, 15352), (17843, 15218),
    (17968, 15199), (18237, 15237), (18320, 15160), (18507, 15564), (18632, 15544), (18715, 15544), (18465, 15429),
    (18590, 15449), (18715, 15449), (18798, 15391), (18590, 15314), (18715, 15276), (18465, 15179), (18590, 15179),
    (18715, 15122), (18818, 15218), (18881, 15583), (18881, 15383), (19379, 15429), (17594, 15218), (17470, 15199),
    (17366, 15103), (17304, 15007), (17345, 14911), (17698, 15026), (17843, 15026), (18030, 15026), (18217, 15045),
    (18424, 15045), (17532, 14892), (17594, 14815), (17760, 14796), (17905, 14776), (17656, 14700), (17760, 14642),
    (17885, 14584), (17760, 14469), (18009, 14930), (18113, 14911), (18113, 14757), (18104, 14584), (18590, 14930),
    (18777, 14930), (18984, 14892), (18341, 14776), (18507, 14776), (18673, 14796), (18403, 14661), (18507, 14584),
    (18694, 14738), (18694, 14488), (18943, 14661), (19150, 14726), (19047, 14488), (18424, 14412), (19067, 15179),
    (19088, 15084), (19163, 14968), (19337, 14988), (18021, 16666), (18175, 16639), (18279, 16735), (18382, 16812),
    (18549, 16812), (18528, 16716), (18341, 16639), (18756, 16612), (19076, 16704), (18217, 16485), (18320, 16524),
    (18424, 16485), (18549, 16408), (18030, 16382), (18258, 16389), (18382, 16389), (18590, 16236), (18715, 16159),
    (18777, 16074), (18632, 16101), (18652, 15986), (18009, 16197), (18134, 16236), (18258, 16236), (18382, 16236),
    (18071, 16101), (18217, 16101), (18341, 16101), (18445, 16120), (18134, 16024), (18258, 16005), (18382, 16005),
    (18465, 15986), (19130, 16408), (19266, 16408), (19130, 16228), (19212, 16228), (19337, 16228), (19038, 15998),
    (19038, 15844), (19192, 15928), (19275, 15909), (19225, 15710),
]

tick_vals = [7500, 10000, 12500, 15000, 17500, 20000, 22500, 25000]

# collect everything into two flat lists
x_pos, y_pos = [], []
for region in [upper_left, left_side, lower_left, bottom, lower_centre, top, top_right_edge,
               upper_right, right_side, lower_right, inner_dense]:
    for y_val, x_vals in region:
        for x_val in x_vals:
            x_pos.append(x_val)
            y_pos.append(y_val)
for cloud in [inner_north, inner_arc_top, inner_arc_left, inner_arc_bottom, inner_lower_right]:
    for x_val, y_val in cloud:
        x_pos.append(x_val)
        y_pos.append(y_val)

plt.rcParams.update({"font.size": 20})

fig = plt.figure(figsize=(10, 10), dpi=200)
ax = fig.add_axes([0.1615, 0.102, 0.8025, 0.868])
ax.scatter(x_pos, y_pos, s=28, c="blue", linewidths=0)

ax.set_xlim(6000, 26000)
ax.set_ylim(7000, 27000)
ax.set_xticks(tick_vals)
ax.set_yticks(tick_vals)
ax.set_xlabel("X Position", fontsize=20)
ax.set_ylabel("Y Position", fontsize=20)

fig.savefig("out.png", dpi=200)
